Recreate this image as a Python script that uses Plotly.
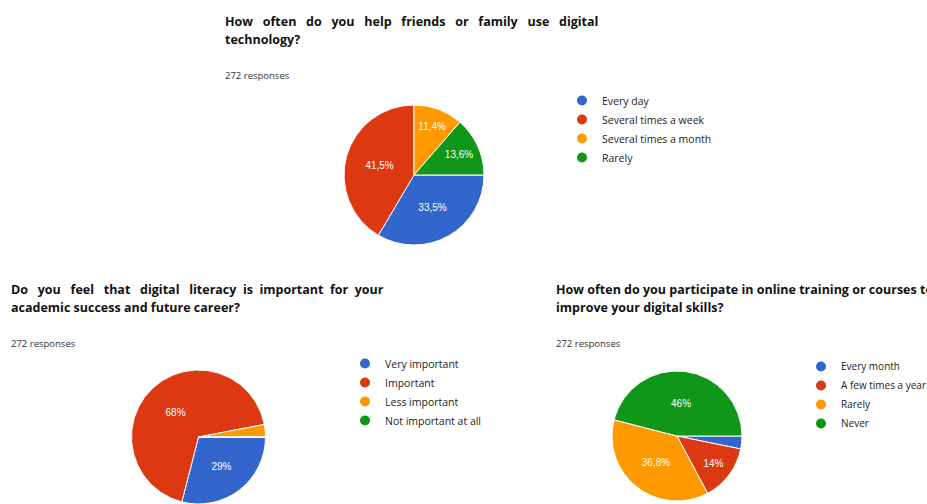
import plotly.graph_objects as go

W, H = 927, 504

colors = ["#3366CC", "#DC3912", "#FF9900", "#109618"]
responses = "272 responses"

q1_title = ["How often do you help friends or family use digital", "technology?"]
q1_labels = ["Every day", "Several times a week", "Several times a month", "Rarely"]
q1_values = [33.5, 41.5, 11.4, 13.6]
q1_text = ["33,5%", "41,5%", "11,4%", "13,6%"]

q2_title = ["Do you feel that digital literacy is important for your",
            "academic success and future career?"]
q2_labels = ["Very important", "Important", "Less important", "Not important at all"]
q2_values = [29, 68, 3, 0]
q2_text = ["29%", "68%", "", ""]

q3_title = ["How often do you participate in online training or courses to",
            "improve your digital skills?"]
q3_labels = ["Every month", "A few times a year", "Rarely", "Never"]
q3_values = [3.2, 14, 36.8, 46]
q3_text = ["", "14%", "36,8%", "46%"]


def px_x(v):
    return v / W


def px_y(v):
    return 1 - v / H


def justify(line, extra):
    """Widen word gaps with non-breaking spaces (imitates justified text)."""
    words = line.split(" ")
    gaps = len(words) - 1
    out = words[0]
    for k in range(gaps):
        n = extra // gaps + (1 if k < extra % gaps else 0)
        out += " " + "\u00a0" * n + words[k + 1]
    return out


# layout boxes (pixel geometry)
panels = [
    dict(title=[justify(q1_title[0], 18), q1_title[1]], labels=q1_labels,
         values=q1_values, text=q1_text, lfs=10.5,
         tx=223, ty=22, ry=75, cx=414, cy=175, r=70, lx=562, ly=86, legend="legend"),
    dict(title=[justify(q2_title[0], 14), q2_title[1]], labels=q2_labels,
         values=q2_values, text=q2_text, lfs=10.5,
         tx=9, ty=289, ry=343, cx=198.5, cy=437, r=67, lx=345, ly=349, legend="legend2"),
    dict(title=q3_title, labels=q3_labels, values=q3_values, text=q3_text, lfs=10,
         tx=554, ty=289, ry=343, cx=677, cy=436, r=65, lx=801, ly=352, legend="legend3"),
]

fig = go.Figure()
annotations = []
TITLE_FONT = dict(family="Open Sans", size=12.5, color="#111111", weight=700)
RESP_FONT = dict(family="Open Sans", size=9.5, color="#333333")

layout_legends = {}
for p in panels:
    fig.add_trace(go.Pie(
        values=p["values"], labels=p["labels"], text=p["text"],
        textinfo="text", textposition="inside", insidetextorientation="horizontal",
        textfont=dict(family="Liberation Sans", size=10, color="white"),
        sort=False, direction="clockwise", rotation=90,
        marker=dict(colors=colors, line=dict(color="white", width=1)),
        showlegend=False, hoverinfo="label+percent",
        domain=dict(x=[px_x(p["cx"] - p["r"]), px_x(p["cx"] + p["r"])],
                    y=[max(0, px_y(p["cy"] + p["r"])), px_y(p["cy"] - p["r"])]),
    ))
    for i, lab in enumerate(p["labels"]):
        fig.add_trace(go.Scatter(
            x=[None], y=[None], mode="markers", name=lab,
            marker=dict(symbol="circle", size=10, color=colors[i]),
            legend=p["legend"], showlegend=True,
        ))
    layout_legends[p["legend"]] = dict(
        x=px_x(p["lx"]), y=px_y(p["ly"]), xanchor="left", yanchor="top",
        font=dict(family="Open Sans", size=p["lfs"], color="#222222"),
        bgcolor="rgba(0,0,0,0)", borderwidth=0,
        itemwidth=30, tracegroupgap=0,
    )
    for j, line in enumerate(p["title"]):
        annotations.append(dict(
            text=line, xref="paper", yref="paper",
            x=px_x(p["tx"]), y=px_y(p["ty"] + 18 * j),
            xanchor="left", yanchor="middle", showarrow=False, font=TITLE_FONT,
        ))
    annotations.append(dict(
        text=responses, xref="paper", yref="paper",
        x=px_x(p["tx"]), y=px_y(p["ry"]),
        xanchor="left", yanchor="middle", showarrow=False, font=RESP_FONT,
    ))

fig.update_layout(
    width=W, height=H, margin=dict(l=0, r=0, t=0, b=0, autoexpand=False),
    paper_bgcolor="white", plot_bgcolor="white",
    xaxis=dict(visible=False, domain=[0, 0.01]),
    yaxis=dict(visible=False, domain=[0, 0.01]),
    annotations=annotations,
    **layout_legends,
)

fig.write_html("out.html")
